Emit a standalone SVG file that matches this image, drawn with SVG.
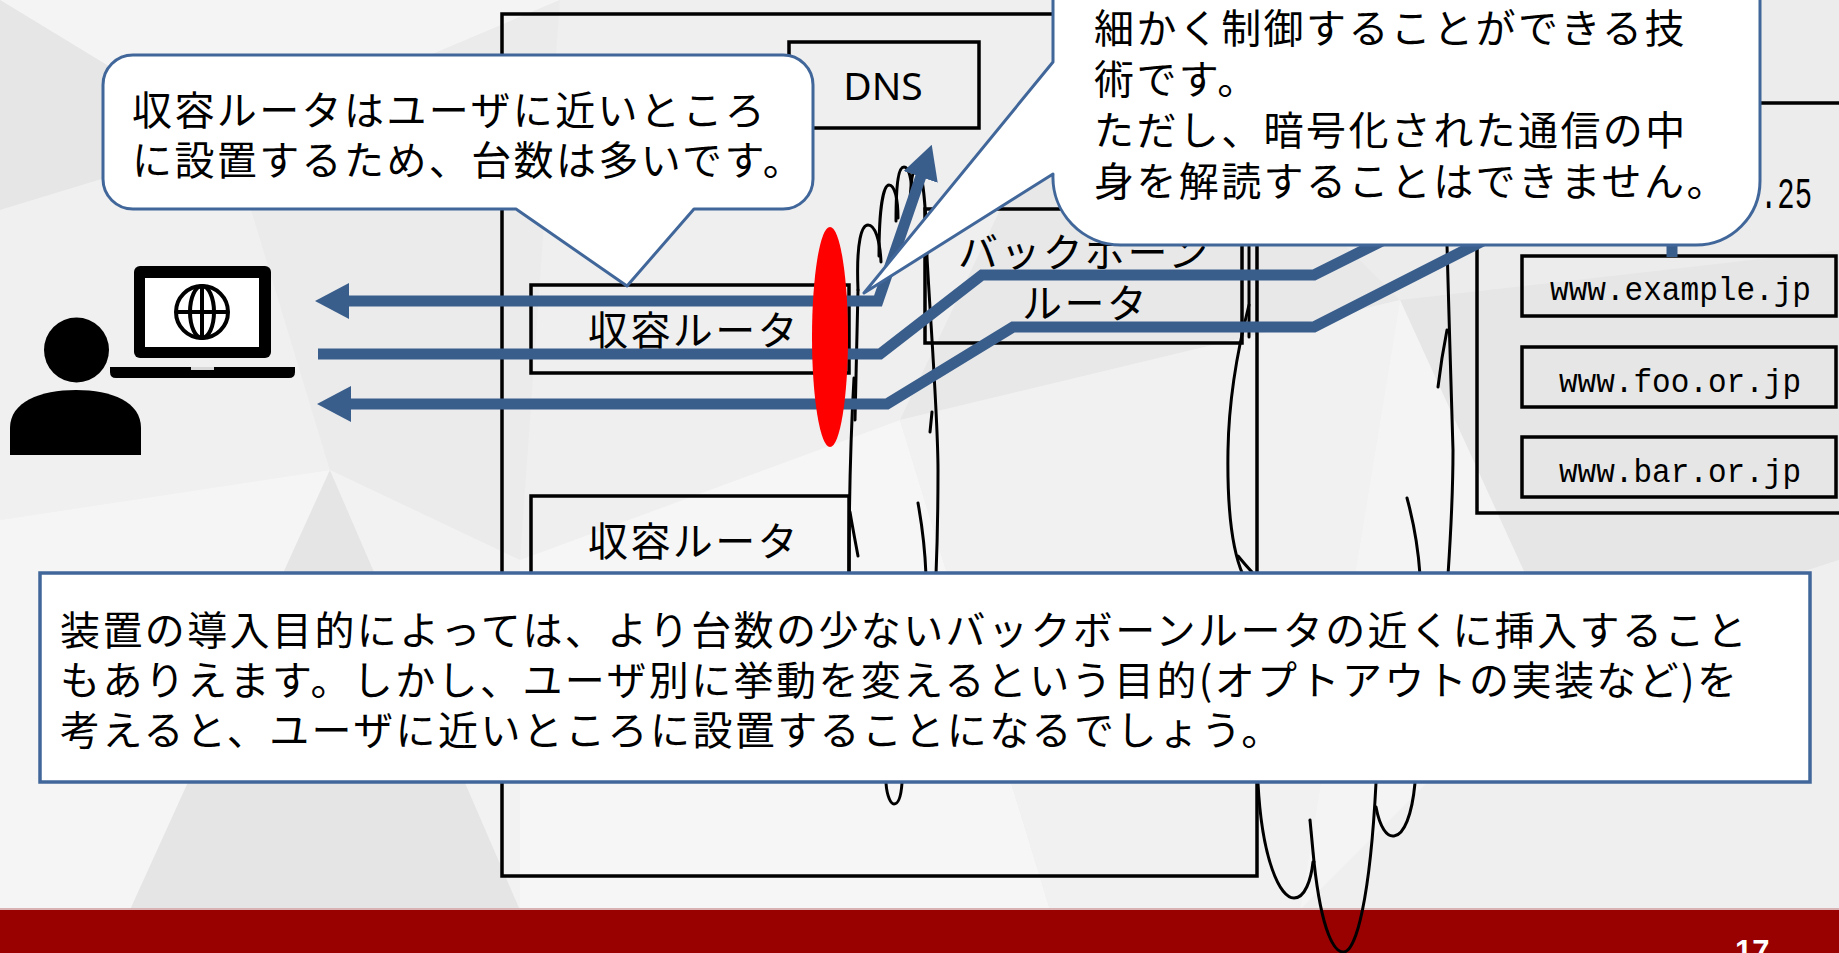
<svg xmlns="http://www.w3.org/2000/svg" width="1839" height="953" viewBox="0 0 1839 953">
  <defs>
    <style>
      .box { fill: none; stroke: #000; stroke-width: 3.5; }
      .cloud { fill: none; stroke: #000; stroke-width: 3; stroke-linecap: round; }
      .flow { fill: none; stroke: #3A5E8C; stroke-width: 11; stroke-linejoin: miter; }
      .callout { fill: #fff; stroke: #41679A; stroke-width: 3; stroke-linejoin: round; }
      .jp { font-family: "Noto Sans CJK JP", "Noto Sans", sans-serif; font-size: 40px; letter-spacing: 2.4px; fill: #000; }
      .mono { font-family: "Liberation Mono", monospace; font-size: 34px; fill: #000; }
      .lat { font-family: "Noto Sans", "Liberation Sans", sans-serif; font-size: 39px; fill: #000; }
    </style>
    <marker id="head" markerUnits="userSpaceOnUse" markerWidth="34" markerHeight="36" viewBox="0 0 34 36" refX="1" refY="18" orient="auto-start-reverse">
      <path d="M0,0 L34,18 L0,36 Z" fill="#3A5E8C"/>
    </marker>
  </defs>

  <!-- low-poly slide background -->
  <g id="background">
    <rect width="1839" height="953" fill="#ececec"/>
    <path d="M0,0 L560,0 L230,140 Z" fill="#f4f4f4"/>
    <path d="M0,0 L230,140 L0,210 Z" fill="#e6e6e6"/>
    <path d="M0,210 L230,140 L330,470 L0,520 Z" fill="#f0f0f0"/>
    <path d="M0,520 L330,470 L130,910 L0,910 Z" fill="#f5f5f5"/>
    <path d="M130,910 L330,470 L520,910 Z" fill="#e5e5e5"/>
    <path d="M230,140 L560,0 L520,560 L330,470 Z" fill="#ebebeb"/>
    <path d="M520,560 L330,470 L520,910 Z" fill="#f2f2f2"/>
    <path d="M560,0 L1100,0 L900,420 L520,560 Z" fill="#efefef"/>
    <path d="M520,560 L900,420 L1050,910 L520,910 Z" fill="#f6f6f6"/>
    <path d="M900,420 L1100,0 L1400,300 Z" fill="#e8e8e8"/>
    <path d="M900,420 L1400,300 L1300,910 L1050,910 Z" fill="#f1f1f1"/>
    <path d="M1100,0 L1839,0 L1839,250 L1400,300 Z" fill="#ececec"/>
    <path d="M1400,300 L1839,250 L1839,560 L1560,650 Z" fill="#e6e6e6"/>
    <path d="M1400,300 L1560,650 L1300,910 Z" fill="#f4f4f4"/>
    <path d="M1560,650 L1839,560 L1839,910 L1300,910 Z" fill="#efefef"/>
  </g>

  <!-- footer band -->
  <g id="footer">
    <rect x="0" y="910" width="1839" height="43" fill="#990000"/>
    <rect x="0" y="908" width="1839" height="2" fill="#d9b3b3"/>
  </g>

  <!-- user with laptop -->
  <g id="user">
    <circle cx="76.5" cy="350" r="32.5" fill="#000"/>
    <path d="M10,455 V428 C10,402 40,390 76,390 C112,390 141,402 141,428 V455 Z" fill="#000"/>
    <rect x="134" y="266" width="137" height="92" rx="6" fill="#000"/>
    <rect x="145" y="278" width="114" height="69" fill="#fff"/>
    <path d="M110,367 H295 V372 Q295,378 289,378 H116 Q110,378 110,372 Z" fill="#000"/>
    <rect x="191" y="367" width="23" height="3" fill="#d8d8d8"/>
    <g fill="none" stroke="#000" stroke-width="4">
      <circle cx="202" cy="312" r="26"/>
      <ellipse cx="202" cy="312" rx="12" ry="26"/>
      <line x1="202" y1="286" x2="202" y2="338"/>
      <line x1="176" y1="312" x2="228" y2="312"/>
    </g>
  </g>

  <!-- provider network -->
  <g id="isp">
    <rect class="box" x="502" y="14" width="755" height="862"/>
  </g>
  <g id="dns">
    <rect class="box" x="789" y="42" width="190" height="86"/>
    <text class="lat" x="883" y="100" text-anchor="middle">DNS</text>
  </g>
  <g id="edge-router-1">
    <rect class="box" x="531" y="285" width="318" height="88"/>
    <text class="jp" x="588" y="345">収容ルータ</text>
  </g>
  <g id="edge-router-2">
    <rect class="box" x="531" y="496" width="318" height="150"/>
    <text class="jp" x="588" y="556">収容ルータ</text>
  </g>
  <g id="backbone-router">
    <rect class="box" x="925" y="209" width="317" height="134"/>
    <text class="jp" x="958" y="267">バックボーン</text>
    <text class="jp" x="1022" y="318">ルータ</text>
  </g>

  <!-- hosting side -->
  <g id="servers">
    <rect class="box" x="1477" y="103" width="420" height="410"/>
    <text class="mono" x="1760" y="208" style="font-size:45px" textLength="52" lengthAdjust="spacingAndGlyphs">.25</text>
  </g>
  <g id="site-example">
    <rect class="box" x="1522" y="256" width="314" height="60"/>
    <text class="mono" x="1550" y="300" textLength="261" lengthAdjust="spacingAndGlyphs">www.example.jp</text>
  </g>
  <g id="site-foo">
    <rect class="box" x="1522" y="347" width="314" height="60"/>
    <text class="mono" x="1559" y="392" textLength="242" lengthAdjust="spacingAndGlyphs">www.foo.or.jp</text>
  </g>
  <g id="site-bar">
    <rect class="box" x="1522" y="437" width="314" height="60"/>
    <text class="mono" x="1559" y="482" textLength="242" lengthAdjust="spacingAndGlyphs">www.bar.or.jp</text>
  </g>

  <!-- internet clouds -->
  <g id="clouds">
    <path class="cloud" d="M858,290 C856,240 862,225 868,225 C875,225 880,240 881,262"/>
    <path class="cloud" d="M879,256 C879,205 884,185 889,185 C895,185 898,200 898,218"/>
    <path class="cloud" d="M896,221 C896,180 899,167 904,167 C909,167 912,180 912,198"/>
    <path class="cloud" d="M910,202 C911,178 913,168 917,168 C922,168 926,200 927,257 C931,330 938,420 938,470 C938,520 937,550 936,575"/>
    <path class="cloud" d="M858,290 C857,330 856,380 855,420"/>
    <path class="cloud" d="M854,378 C851,430 849,500 849,575"/>
    <path class="cloud" d="M932,412 L930,432"/>
    <path class="cloud" d="M918,503 C922,525 925,550 926,575"/>
    <path class="cloud" d="M850,512 C853,530 856,545 858,556"/>
    <path class="cloud" d="M886,783 C887,797 891,804 894,804 C898,804 901,797 902,783"/>

    <path class="cloud" d="M1249,245 V337"/>
    <path class="cloud" d="M1249,305 C1240,340 1229,390 1228,450 C1227,510 1232,550 1243,575"/>
    <path class="cloud" d="M1238,556 C1243,562 1247,567 1252,572"/>
    <path class="cloud" d="M1447,245 C1448,300 1452,400 1453,450 C1453,500 1450,545 1448,575"/>
    <path class="cloud" d="M1447,330 C1443,350 1440,370 1438,387"/>
    <path class="cloud" d="M1407,498 C1413,520 1418,545 1420,575"/>
    <path class="cloud" d="M1258,783 C1262,860 1280,898 1294,898 C1305,898 1311,880 1313,862"/>
    <path class="cloud" d="M1310,820 L1314,862"/>
    <path class="cloud" d="M1314,862 C1322,935 1335,953 1344,952 C1356,951 1370,900 1376,783"/>
    <path class="cloud" d="M1376,807 C1380,828 1387,837 1394,836 C1404,835 1412,815 1415,783"/>
  </g>

  <!-- traffic flows -->
  <g id="connectors">
    <path class="flow" d="M348,301 H878 L921,176" marker-start="url(#head)" marker-end="url(#head)"/>
    <path class="flow" d="M318,354 H880 L982,275 H1314 L1420,222"/>
    <path class="flow" d="M350,404 H887 L1013,327 H1314 L1520,222 H1672 V257" marker-start="url(#head)"/>
  </g>

  <!-- inspection point -->
  <g id="inspection">
    <ellipse cx="830" cy="337" rx="18" ry="110" fill="#ff0000"/>
  </g>

  <!-- callouts -->
  <g id="callout-edge">
    <path class="callout" d="M133,55 H783 A30,30 0 0 1 813,85 V179 A30,30 0 0 1 783,209 H694 L627,286 L516,209 H133 A30,30 0 0 1 103,179 V85 A30,30 0 0 1 133,55 Z"/>
    <text class="jp" x="132" y="125">収容ルータはユーザに近いところ</text>
    <text class="jp" x="132" y="175">に設置するため、台数は多いです。</text>
  </g>
  <g id="callout-dpi">
    <path class="callout" d="M1053,-40 V62 L864,293 L1053,174 A68,68 0 0 0 1121,245 H1696 A64,64 0 0 0 1760,181 V-40 Z"/>
    <text class="jp" x="1094" y="43">細かく制御することができる技</text>
    <text class="jp" x="1094" y="94">術です。</text>
    <text class="jp" x="1094" y="145">ただし、暗号化された通信の中</text>
    <text class="jp" x="1094" y="196">身を解読することはできません。</text>
  </g>

  <!-- note -->
  <g id="note">
    <rect x="40" y="573" width="1770" height="209" fill="#fff" stroke="#41679A" stroke-width="3.5"/>
    <text class="jp" x="60" y="645">装置の導入目的によっては、より台数の少ないバックボーンルータの近くに挿入すること</text>
    <text class="jp" x="60" y="695">もありえます。しかし、ユーザ別に挙動を変えるという目的(オプトアウトの実装など)を</text>
    <text class="jp" x="60" y="745">考えると、ユーザに近いところに設置することになるでしょう。</text>
  </g>

  <g id="page-number">
    <text x="1735" y="962" font-family="Liberation Sans, sans-serif" font-weight="bold" font-size="31" fill="#fff">17</text>
  </g>
</svg>
